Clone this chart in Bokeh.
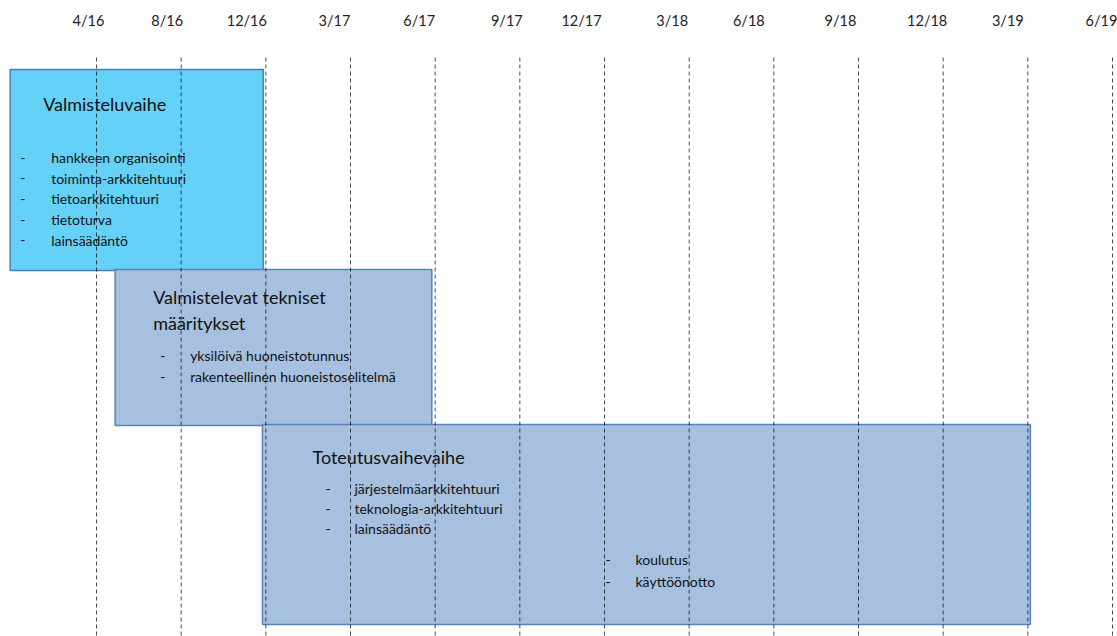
from bokeh.plotting import figure
from bokeh.models import Range1d
from bokeh.core.properties import value
from bokeh.embed import file_html
from bokeh.resources import INLINE

# ---- data ----
tick_labels = ["4/16", "8/16", "12/16", "3/17", "6/17", "9/17", "12/17",
               "3/18", "6/18", "9/18", "12/18", "3/19", "6/19"]
tick_index = list(range(len(tick_labels)))

phase_titles = [["Valmisteluvaihe"],
                ["Valmistelevat tekniset", "määritykset"],
                ["Toteutusvaihevaihe"]]
phase_start = [-1.02, 0.22, 1.96]   # position on the time scale (tick index units)
phase_end = [1.97, 3.96, 11.03]

phase1_items = ["hankkeen organisointi", "toiminta-arkkitehtuuri",
                "tietoarkkitehtuuri", "tietoturva", "lainsäädäntö"]
phase2_items = ["yksilöivä huoneistotunnus", "rakenteellinen huoneistoselitelmä"]
phase3_items = ["järjestelmäarkkitehtuuri", "teknologia-arkkitehtuuri", "lainsäädäntö"]
phase3_late_items = ["koulutus", "käyttöönotto"]
phase3_late_at = 6.0   # 12/17

# ---- layout / style ----
W, H = 1117, 636
X0, X1 = -1.134, 12.059
FONT = value("Lato")
fills = ["#66D1F7", "#A7C0DF", "#A7C0DF"]
borders = ["#4A7EBB", "#5A83B8", "#5A83B8"]
box_top = [69, 269, 424]
box_bot = [270, 425, 624]
label_nudge_px = [-8, -14, -19, -16, -16, -13, -23, -17, -25, -18, -16, -20, -11]
TS, IS = -6, -5   # baseline corrections for titles / items (px)


def px2x(dx):
    return dx * (X1 - X0) / W


p = figure(width=W, height=H, output_backend="svg", toolbar_location=None,
           x_range=Range1d(X0, X1), y_range=Range1d(H, 0),
           min_border=0, outline_line_color=None)
p.axis.visible = False
p.grid.visible = False
p.background_fill_color = "white"

# boxes
p.quad(left=phase_start, right=phase_end, top=box_top, bottom=box_bot,
       fill_color=fills, line_color=borders, line_width=1.5)

# dashed timeline lines
p.segment(x0=tick_index, x1=tick_index, y0=[57] * len(tick_index), y1=[H] * len(tick_index),
          line_color="black", line_alpha=0.7, line_width=1, line_dash="4 3")

# tick labels on top
p.text(x=[i + px2x(n) for i, n in zip(tick_index, label_nudge_px)], y=[20] * len(tick_index),
       text=tick_labels, text_font=FONT, text_font_size="14.5px", text_color="#222222",
       text_align="center", text_baseline="middle")


def title(x, ys, lines):
    p.text(x=[x] * len(lines), y=[y + TS for y in ys], text=lines, text_font=FONT,
           text_font_size="18px", text_color="#111111", text_align="left",
           text_baseline="alphabetic")


def items(x_dash, x_text, y0, step, lst):
    ys = [y0 + IS + k * step for k in range(len(lst))]
    p.text(x=[x_dash] * len(lst), y=ys, text=["-"] * len(lst), text_font=FONT,
           text_font_size="14px", text_color="#111111", text_baseline="alphabetic")
    p.text(x=[x_text] * len(lst), y=ys, text=lst, text_font=FONT,
           text_font_size="14px", text_color="#111111", text_baseline="alphabetic")


# phase 1
s0 = phase_start[0]
title(s0 + px2x(33), [109], phase_titles[0])
items(s0 + px2x(10), s0 + px2x(41), 162, 20.7, phase1_items)

# phase 2
s1 = phase_start[1]
title(s1 + px2x(38), [302, 328], phase_titles[1])
items(s1 + px2x(45), s1 + px2x(75), 360, 21, phase2_items)

# phase 3
s2 = phase_start[2]
title(s2 + px2x(50), [462], phase_titles[2])
items(s2 + px2x(63), s2 + px2x(92), 493, 20, phase3_items)
items(phase3_late_at + px2x(1), phase3_late_at + px2x(31), 564, 22, phase3_late_items)

open("out.html", "w").write(file_html(p, INLINE))
